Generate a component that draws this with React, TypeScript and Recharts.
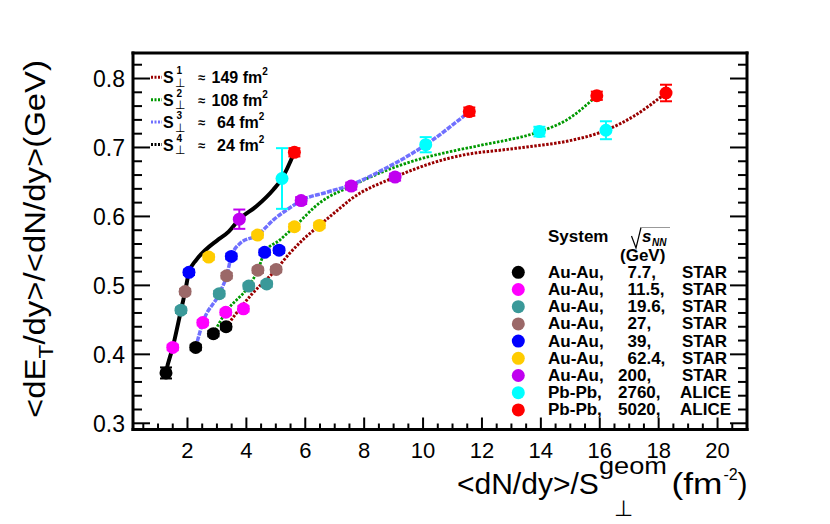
import React from "react";
import { ComposedChart, ErrorBar, Line, Scatter, XAxis, YAxis } from "recharts";

const FONT = "'Liberation Sans', Arial, Helvetica, sans-serif";

// one marker per collision energy on each transverse-area curve
const energies = ["7.7", "11.5", "19.6", "27", "39", "62.4", "200", "2760", "5020"];
const systems = ["Au-Au", "Au-Au", "Au-Au", "Au-Au", "Au-Au", "Au-Au", "Au-Au", "Pb-Pb", "Pb-Pb"];
const experiments = ["STAR", "STAR", "STAR", "STAR", "STAR", "STAR", "STAR", "ALICE", "ALICE"];
const areaLabels = ["149", "108", "64", "24"];

// S1 ~ 149 fm2
const s1X = [3.31, 3.9, 4.69, 5.01, 5.11, 6.48, 9.05, 16.21, 18.25];
const s1Y = [0.44, 0.466, 0.502, 0.523, 0.551, 0.587, 0.657, 0.725, 0.779];
const s1Err = [0.004, 0.004, 0.004, 0.004, 0.004, 0.004, 0.005, 0.013, 0.012];
// S2 ~ 108 fm2
const s2X = [2.88, 3.3, 4.08, 4.39, 4.62, 5.63, 7.56, 13.95, 15.9];
const s2Y = [0.43, 0.461, 0.499, 0.522, 0.548, 0.585, 0.644, 0.723, 0.775];
const s2Err = [0.004, 0.004, 0.004, 0.004, 0.004, 0.004, 0.005, 0.007, 0.006];
// S3 ~ 64 fm2
const s3X = [2.28, 2.52, 3.08, 3.33, 3.49, 4.38, 5.86, 10.09, 11.57];
const s3Y = [0.41, 0.446, 0.488, 0.514, 0.542, 0.573, 0.623, 0.704, 0.752];
const s3Err = [0.004, 0.004, 0.004, 0.004, 0.004, 0.004, 0.005, 0.011, 0.006];
// S4 ~ 24 fm2
const s4X = [1.27, 1.5, 1.78, 1.92, 2.05, 2.72, 3.76, 5.21, 5.63];
const s4Y = [0.373, 0.41, 0.464, 0.491, 0.519, 0.541, 0.596, 0.655, 0.693];
const s4Err = [0.008, 0.004, 0.004, 0.004, 0.004, 0.004, 0.014, 0.044, 0.006];

// fitted curves
const s1FitX = [3.31, 4.18, 5.01, 5.48, 5.94, 6.48, 7.18, 7.52, 9.05, 10.35, 11.48, 12.61, 13.75, 14.88, 16.21, 17.14, 18.25];
const s1FitY = [0.44, 0.487, 0.523, 0.547, 0.567, 0.587, 0.612, 0.624, 0.657, 0.678, 0.69, 0.696, 0.702, 0.709, 0.725, 0.745, 0.779];
const s2FitX = [2.88, 3.3, 4.08, 4.39, 4.62, 5.14, 5.63, 6.5, 7.56, 8.65, 9.79, 10.92, 12.05, 13.95, 14.88, 15.9];
const s2FitY = [0.43, 0.461, 0.499, 0.522, 0.548, 0.566, 0.585, 0.62, 0.644, 0.665, 0.682, 0.694, 0.704, 0.723, 0.74, 0.775];
const s3FitX = [2.28, 2.52, 3.08, 3.33, 3.49, 3.79, 4.38, 4.92, 5.71, 5.86, 6.73, 7.56, 8.65, 10.09, 11.57];
const s3FitY = [0.41, 0.446, 0.488, 0.514, 0.542, 0.561, 0.573, 0.595, 0.619, 0.623, 0.635, 0.646, 0.668, 0.704, 0.752];
const s4FitX = [1.24, 1.27, 1.5, 1.78, 1.92, 2.05, 2.3, 2.6, 3.0, 3.4, 3.76, 4.35, 4.92, 5.21, 5.63];
const s4FitY = [0.365, 0.373, 0.41, 0.464, 0.491, 0.519, 0.537, 0.551, 0.565, 0.578, 0.596, 0.615, 0.639, 0.655, 0.693];

const xMajor = [2, 4, 6, 8, 10, 12, 14, 16, 18, 20];
const yMajor = [0.3, 0.4, 0.5, 0.6, 0.7, 0.8];
const xTicks = Array.from({ length: 41 }, (_, i) => (i + 1) * 0.5);
const yTicks = Array.from({ length: 27 }, (_, i) => +(0.3 + i * 0.02).toFixed(2));

const markerColors = ["#000000", "#ff00ff", "#3a9999", "#9b6868", "#0000ff", "#ffcc00", "#c000f0", "#00ffff", "#ff0000"];

const curves = [
  { label: areaLabels[0], color: "#990000", dash: "2.5 1.5", width: 3, xs: s1X, ys: s1Y, errs: s1Err, fitX: s1FitX, fitY: s1FitY },
  { label: areaLabels[1], color: "#009900", dash: "2.5 1.5", width: 2.8, xs: s2X, ys: s2Y, errs: s2Err, fitX: s2FitX, fitY: s2FitY },
  { label: areaLabels[2], color: "#7070ff", dash: "5 1.2", width: 3.5, xs: s3X, ys: s3Y, errs: s3Err, fitX: s3FitX, fitY: s3FitY },
  { label: areaLabels[3], color: "#000000", dash: undefined, width: 4, xs: s4X, ys: s4Y, errs: s4Err, fitX: s4FitX, fitY: s4FitY },
];

const isXMajor = (v: number) => xMajor.some((m) => Math.abs(m - v) < 1e-6);
const isYMajor = (v: number) => yMajor.some((m) => Math.abs(m - v) < 1e-6);

function BottomTick({ x, y, payload }: any) {
  const major = isXMajor(payload.value);
  return (
    <g>
      <line x1={x} x2={x} y1={y} y2={y - (major ? 12 : 6)} stroke="#000" strokeWidth={2} />
      {major && (
        <text x={x} y={y + 28.5} textAnchor="middle" fontSize={22} fontFamily={FONT} fill="#000">
          {payload.value}
        </text>
      )}
    </g>
  );
}

function TopTick({ x, y, payload }: any) {
  const major = isXMajor(payload.value);
  return <line x1={x} x2={x} y1={y} y2={y + (major ? 12 : 6)} stroke="#000" strokeWidth={2} />;
}

function LeftTick({ x, y, payload }: any) {
  const major = isYMajor(payload.value);
  return (
    <g>
      <line x1={x} x2={x + (major ? 17 : 9)} y1={y} y2={y} stroke="#000" strokeWidth={2} />
      {major && (
        <text x={x - 8} y={y + 8.3} textAnchor="end" fontSize={23} fontFamily={FONT} fill="#000">
          {payload.value.toFixed(1)}
        </text>
      )}
    </g>
  );
}

function RightTick({ x, y, payload }: any) {
  const major = isYMajor(payload.value);
  return <line x1={x} x2={x - (major ? 17 : 9)} y1={y} y2={y} stroke="#000" strokeWidth={2} />;
}

const frame = { stroke: "#000", strokeWidth: 3, strokeLinecap: "square" as const };

export default function App() {
  const pointsByEnergy = energies.map((_, i) =>
    curves.map((c) => ({ x: c.xs[i], y: c.ys[i], err: c.errs[i] }))
  );

  return (
    <div style={{ position: "absolute", left: 0, top: 0, width: 830, height: 524, background: "#fff" }}>
      <ComposedChart width={830} height={524} margin={{ top: 52, right: 82, bottom: 64.5, left: 93 }}>
        <XAxis
          xAxisId="b"
          type="number"
          dataKey="x"
          domain={[0.15, 21]}
          allowDataOverflow
          ticks={xTicks}
          interval={0}
          tickSize={0}
          tickMargin={0}
          tickLine={false}
          axisLine={frame}
          tick={(p: any) => <BottomTick {...p} />}
          height={30}
        />
        <XAxis
          xAxisId="t"
          orientation="top"
          type="number"
          domain={[0.15, 21]}
          allowDataOverflow
          ticks={xTicks}
          interval={0}
          tickSize={0}
          tickMargin={0}
          tickLine={false}
          axisLine={frame}
          tick={(p: any) => <TopTick {...p} />}
          height={1}
        />
        <YAxis
          yAxisId="l"
          type="number"
          dataKey="y"
          domain={[0.291, 0.837]}
          allowDataOverflow
          ticks={yTicks}
          interval={0}
          tickSize={0}
          tickMargin={0}
          tickLine={false}
          axisLine={frame}
          tick={(p: any) => <LeftTick {...p} />}
          width={40}
        />
        <YAxis
          yAxisId="r"
          orientation="right"
          type="number"
          domain={[0.291, 0.837]}
          allowDataOverflow
          ticks={yTicks}
          interval={0}
          tickSize={0}
          tickMargin={0}
          tickLine={false}
          axisLine={frame}
          tick={(p: any) => <RightTick {...p} />}
          width={1}
        />
        {curves.map((c) => (
          <Line
            key={"fit" + c.label}
            xAxisId="b"
            yAxisId="l"
            data={c.fitX.map((x, k) => ({ x, y: c.fitY[k] }))}
            dataKey="y"
            type="monotone"
            stroke={c.color}
            strokeWidth={c.width}
            strokeDasharray={c.dash}
            dot={false}
            activeDot={false}
            isAnimationActive={false}
          />
        ))}
        {pointsByEnergy.map((pts, i) => (
          <Scatter
            key={"e" + energies[i]}
            xAxisId="b"
            yAxisId="l"
            data={pts}
            dataKey="y"
            fill={markerColors[i]}
            isAnimationActive={false}
            shape={(p: any) => <circle cx={p.cx} cy={p.cy} r={6.5} fill={markerColors[i]} />}
          >
            <ErrorBar dataKey="err" direction="y" stroke={markerColors[i]} strokeWidth={2} width={6} />
          </Scatter>
        ))}
      </ComposedChart>

      <svg
        width={830}
        height={524}
        style={{ position: "absolute", left: 0, top: 0, pointerEvents: "none" }}
        fontFamily={FONT}
      >
        {/* transverse area legend */}
        {curves.map((c, i) => {
          const base = 83.3 + i * 22.4;
          return (
            <g key={"leg" + c.label}>
              <line x1={151} x2={162} y1={base - 6} y2={base - 6} stroke={c.color} strokeWidth={3} strokeDasharray="2 1.5" />
              <text x={163} y={base} fontSize={16} fontWeight="bold">S</text>
              <text x={176.5} y={base - 9} fontSize={10} fontWeight="bold">{i + 1}</text>
              <text x={174.5} y={base + 3.5} fontSize={12}>⊥</text>
              <text x={198} y={base - 1} fontSize={13} fontWeight="bold">≈</text>
              <text x={c.label.length === 3 ? 211.5 : 217} y={base} fontSize={16} fontWeight="bold">
                {c.label} fm<tspan dy={-8} fontSize={10}>2</tspan>
              </text>
            </g>
          );
        })}

        {/* system legend */}
        <text x={548} y={242} fontSize={17} fontWeight="bold">System</text>
        <polyline points="631.5,236 636,248 641,227.5" fill="none" stroke="#000" strokeWidth={1.2} />
        <line x1={641} x2={670} y1={227.5} y2={227.5} stroke="#999" strokeWidth={1} />
        <text x={642} y={242} fontSize={17} fontWeight="bold" fontStyle="italic">s</text>
        <text x={652} y={246} fontSize={10} fontWeight="bold" fontStyle="italic">NN</text>
        <text x={620} y={261} fontSize={17} fontWeight="bold">(GeV)</text>
        {energies.map((e, i) => {
          const cy = 272.3 + i * 17.2;
          return (
            <g key={"sys" + e}>
              <circle cx={518.3} cy={cy} r={6.5} fill={markerColors[i]} />
              <text x={548} y={cy + 5.5} fontSize={17} fontWeight="bold">{systems[i]},</text>
              <text x={e.split(".")[0].length >= 3 ? 618 : 627.5} y={cy + 5.5} fontSize={17} fontWeight="bold">{e},</text>
              <text x={experiments[i] === "STAR" ? 682 : 680} y={cy + 5.5} fontSize={17} fontWeight="bold">{experiments[i]}</text>
            </g>
          );
        })}

        {/* axis titles */}
        <text x={457} y={493.5} fontSize={30}>&lt;dN/dy&gt;/S</text>
        <text x={599} y={474} fontSize={24} textLength={68} lengthAdjust="spacingAndGlyphs">geom</text>
        <text x={614} y={516} fontSize={22}>⊥</text>
        <text x={671.5} y={493.5} fontSize={30} textLength={51} lengthAdjust="spacingAndGlyphs">(fm</text>
        <text x={723.5} y={480} fontSize={16}>-2</text>
        <text x={737.5} y={493.5} fontSize={30}>)</text>

        <text
          transform="translate(45,418) rotate(-90)"
          fontSize={29}
          textLength={358}
          lengthAdjust="spacingAndGlyphs"
        >
          &lt;dE<tspan dy={8} fontSize={20}>T</tspan>
          <tspan dy={-8} fontSize={29}>/dy&gt;/&lt;dN/dy&gt;(GeV)</tspan>
        </text>
      </svg>
    </div>
  );
}
